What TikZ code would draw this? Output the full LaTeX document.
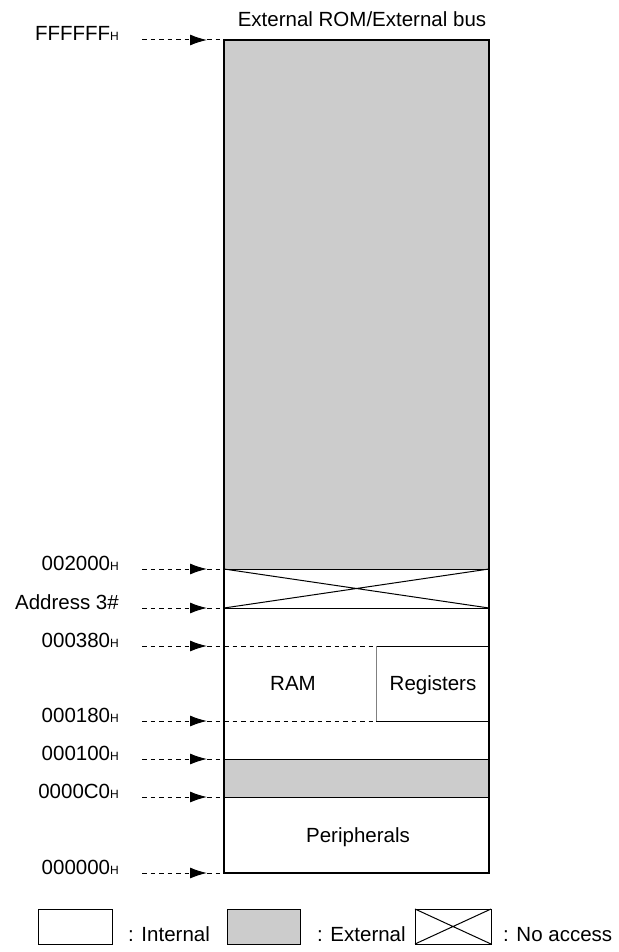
\documentclass[tikz,border=0pt]{standalone}
\usepackage{fontspec}
\setmainfont{Liberation Sans}
\usetikzlibrary{arrows.meta}

\newcommand{\hexsuf}{{\fontsize{12}{12}\selectfont H}}

\begin{document}
\begin{tikzpicture}[x=1pt,y=-1pt,
    every node/.style={font=\fontsize{20.5}{24}\selectfont, inner sep=0pt},
    addr/.style={anchor=base east},
    thinline/.style={line width=1pt},
    frame/.style={line width=2.8pt},
    ext/.style={fill=black!20},
    pointer/.style={dash pattern=on 4.5pt off 4pt, line width=1pt}]

    % Define parameters
    \def\xl{224}
    \def\xr{489}
    \def\xreg{376}
    \def\xtick{142}
    \def\xtip{207}
    \def\xlab{119}

    \useasboundingbox (0,0) rectangle (618,952);

    % Regions
    \fill[ext] (\xl,40) rectangle (\xr,569);
    \fill[ext] (\xl,759) rectangle (\xr,797);
    \draw[thinline] (\xl,569) -- (\xr,569);
    \draw[thinline] (\xl,569) -- (\xr,608) (\xl,608) -- (\xr,569);
    \draw[thinline] (\xl,608) -- (\xr,608);
    \draw[pointer] (\xl,646) -- (\xreg,646);
    \draw[pointer] (\xl,721) -- (\xreg,721);
    \draw[thinline] (\xr,646) -- (\xreg,646);
    \draw[thinline,gray] (\xreg,646) -- (\xreg,721);
    \draw[thinline] (\xreg,721) -- (\xr,721);
    \draw[thinline] (\xl,759) -- (\xr,759);
    \draw[thinline] (\xl,797) -- (\xr,797);
    \draw[frame] (\xl,40) rectangle (\xr,873);

    \node[anchor=base] (title) at (362,27) {External ROM/External bus};
    \node[anchor=base] (ram) at (293,690) {RAM};
    \node[anchor=base] (regs) at (433,690) {Registers};
    \node[anchor=base] (periph) at (358,842) {Peripherals};

    % Addresses
    \foreach \y/\txt/\nm in {40/FFFFFF\hexsuf/fff, 569/002000\hexsuf/a2000,
        608/Address 3\#/a3, 646/000380\hexsuf/a380, 721/000180\hexsuf/a180,
        759/000100\hexsuf/a100, 797/0000C0\hexsuf/ac0, 873/000000\hexsuf/a0} {
        \node[addr] (lab-\nm) at (\xlab,\y+1) {\txt};
        \coordinate (tail-\nm) at (\xtick,\y);
        \coordinate (tip-\nm) at (\xtip,\y);
        \coordinate (edge-\nm) at (\xl,\y);
        \draw[pointer,-{Latex[length=17pt,width=11pt]}] (tail-\nm) -- (tip-\nm);
        \draw[pointer] (tip-\nm) -- (edge-\nm);
    }

    % Legend
    \draw[thinline] (38,909) rectangle (112,944);
    \node[anchor=base west] (int) at (128,941) {: Internal};
    \draw[thinline,ext] (227,909) rectangle (300,944);
    \node[anchor=base west] (extl) at (317,941) {: External};
    \draw[thinline] (415,909) rectangle (491,944);
    \draw[thinline] (415,909) -- (491,944) (415,944) -- (491,909);
    \node[anchor=base west] (noacc) at (503,941) {: No access};
\end{tikzpicture}
\end{document}
